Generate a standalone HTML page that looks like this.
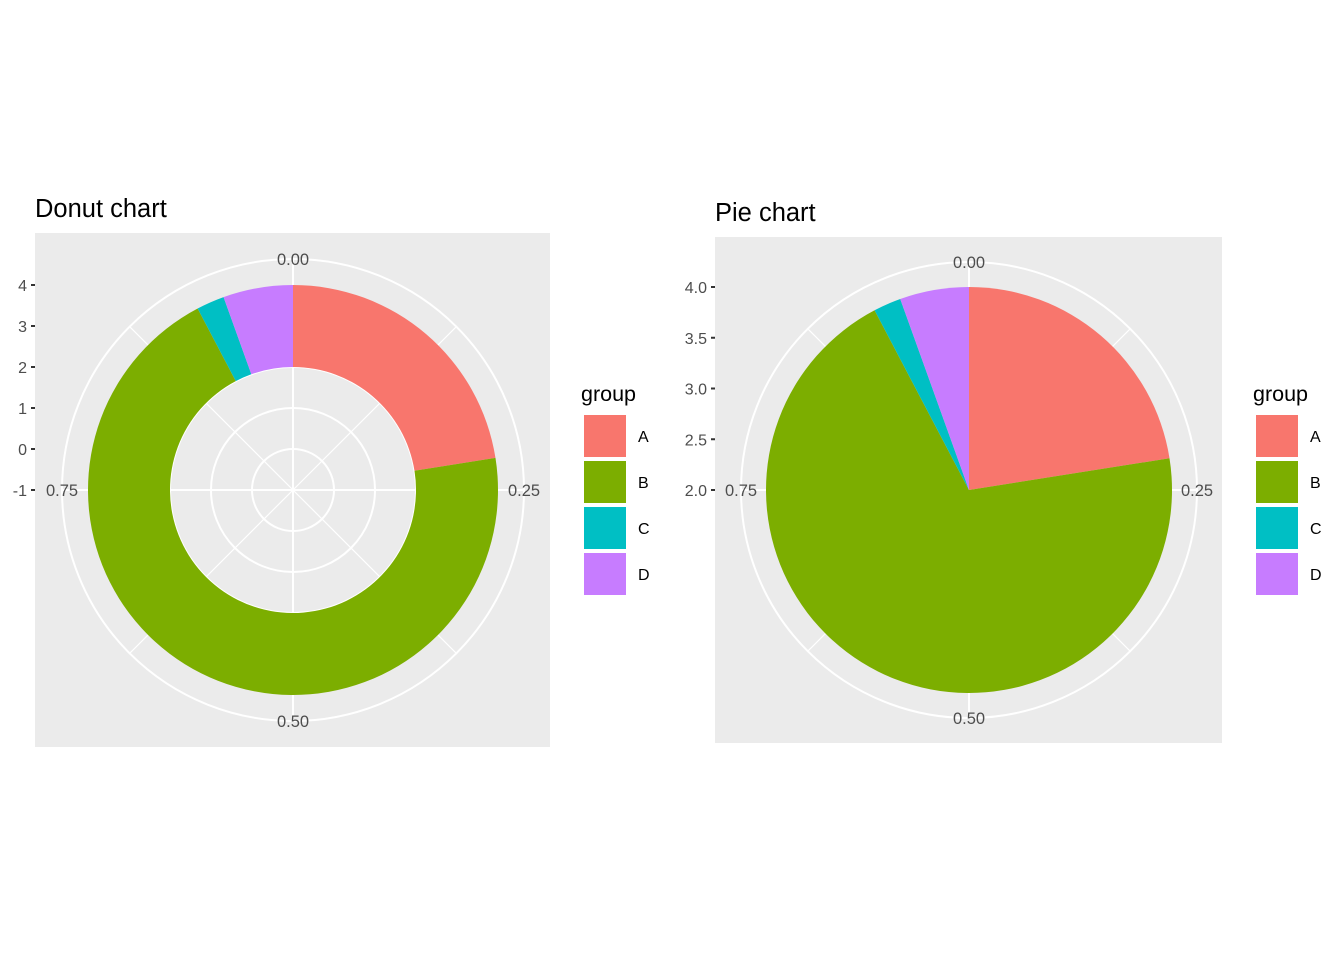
<!DOCTYPE html>
<html><head><meta charset="utf-8"><style>
body{margin:0;background:#fff}
svg text{font-family:"Liberation Sans",sans-serif}
</style></head><body>
<svg id="s" width="1344" height="960" xmlns="http://www.w3.org/2000/svg"></svg>
<script>
const categories=["A","B","C","D"];
const shares=[0.225,0.698,0.022,0.055];
const colors=["#F8766D","#7CAE00","#00BFC4","#C77CFF"];
const thetaTicks=["0.00","0.25","0.50","0.75"];
const donutYTicks=[-1,0,1,2,3,4];
const pieYTicks=["2.0","2.5","3.0","3.5","4.0"];
const NS="http://www.w3.org/2000/svg";
const svg=document.getElementById('s');
function el(tag,attrs,parent,text){const e=document.createElementNS(NS,tag);for(const k in attrs)e.setAttribute(k,attrs[k]);if(text!==undefined)e.textContent=text;(parent||svg).appendChild(e);return e;}
function pt(cx,cy,r,f){const a=f*2*Math.PI;return [cx+r*Math.sin(a),cy-r*Math.cos(a)];}
function sector(cx,cy,r0,r1,f0,f1){const big=(f1-f0)>0.5?1:0;const a=pt(cx,cy,r1,f0),b=pt(cx,cy,r1,f1);
 if(r0<=0)return `M${cx},${cy}L${a}A${r1},${r1} 0 ${big} 1 ${b}Z`;
 const c=pt(cx,cy,r0,f1),d=pt(cx,cy,r0,f0);
 return `M${a}A${r1},${r1} 0 ${big} 1 ${b}L${c}A${r0},${r0} 0 ${big} 0 ${d}Z`;}
function drawChart(o){
 const g=el('g',{},svg);
 const t=el('text',{x:o.px,y:o.titleY,'font-size':25.5,fill:'#000'},g,o.title);
 const p=el('rect',{x:o.px,y:o.py,width:o.pw,height:o.ph,fill:'#EBEBEB'},g);
 const cx=o.cx,cy=o.cy;
 const oc=el('circle',{cx,cy,r:o.outerR,fill:'none',stroke:'#fff','stroke-width':2},g);
 for(let i=0;i<8;i++){const e=pt(cx,cy,o.outerR,i/8);const l=el('line',{x1:cx,y1:cy,x2:e[0],y2:e[1],stroke:'#fff','stroke-width':i%2?1.2:2},g);}
 o.yvals.forEach(v=>{const r=o.rScale(v);if(r>0){const c=el('circle',{cx,cy,r,fill:'none',stroke:'#fff','stroke-width':2},g);}});
 let cum=0;const tot=shares.reduce((a,b)=>a+b,0);
 shares.forEach((s,i)=>{const f0=cum/tot,f1=(cum+s)/tot;cum+=s;
  const pa=el('path',{d:sector(cx,cy,o.rScale(o.ymin),o.rScale(o.ymax),f0,f1),fill:colors[i]},g);
  });
 thetaTicks.forEach((lab,i)=>{const f=i/4;const q=pt(cx,cy,o.outerR,f);
  const tx=el('text',{x:q[0],y:q[1]+6,'font-size':16.5,fill:'#4D4D4D','text-anchor':'middle'},g,lab);
  });
 o.yLabels.forEach((lab,i)=>{const y=cy-o.rScale(o.yvalsT[i]);
  const tl=el('line',{x1:o.px-4,y1:y,x2:o.px,y2:y,stroke:'#333','stroke-width':2},g);
  const tx=el('text',{x:o.px-8,y:y+6,'font-size':16,fill:'#4D4D4D','text-anchor':'end'},g,lab);});
 const lg=el('g',{},g);
 const lt=el('text',{x:o.lx-2,y:401,'font-size':21.5,fill:'#000'},lg,'group');
 categories.forEach((c,i)=>{const y=414+i*46;
  const r=el('rect',{x:o.lx,y:y,width:44,height:44,fill:colors[i],stroke:'#fff','stroke-width':2},lg);
  const tx=el('text',{x:o.lx+55,y:y+28,'font-size':16,fill:'#000'},lg,c);});
}
drawChart({name:'donut-chart',title:'Donut chart',px:35,py:233,pw:515,ph:514,titleY:217,cx:293,cy:490,outerR:231,
 rScale:v=>(v+1)*41,ymin:2,ymax:4,yvals:[0,1,2],yvalsT:donutYTicks,yLabels:donutYTicks.map(String),lx:583});
drawChart({name:'pie-chart',title:'Pie chart',px:715,py:237,pw:507,ph:506,titleY:221,cx:969,cy:490,outerR:228,
 rScale:v=>(v-2)*101.5,ymin:2,ymax:4,yvals:[],yvalsT:pieYTicks.map(Number),yLabels:pieYTicks,lx:1255});
</script>
</body></html>
